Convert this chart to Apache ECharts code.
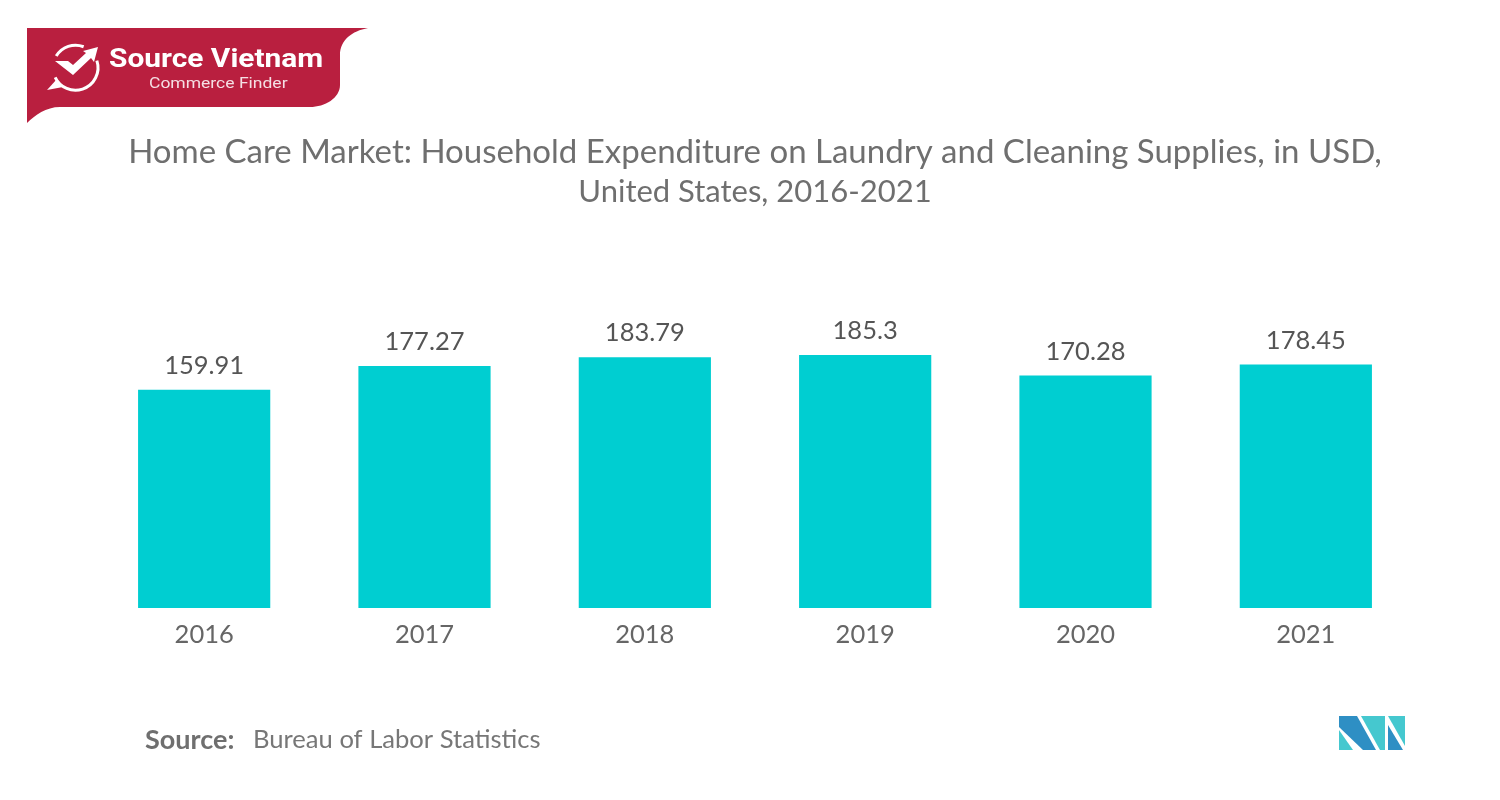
<!DOCTYPE html>
<html>
<head>
<meta charset="utf-8">
<style>html,body{margin:0;padding:0;background:#fff}#c{width:1500px;height:800px}</style>
<script src="https://cdn.jsdelivr.net/npm/echarts@6/dist/echarts.min.js"></script>
</head>
<body>
<div id="c"></div>
<script>
const categories = ['2016','2017','2018','2019','2020','2021'];
const values = [159.91,177.27,183.79,185.3,170.28,178.45];
const valueLabels = ['159.91','177.27','183.79','185.3','170.28','178.45'];
const titleLine1 = 'Home Care Market: Household Expenditure on Laundry and Cleaning Supplies, in USD,';
const titleLine2 = 'United States, 2016-2021';
const sourceLabel = 'Source:';
const sourceText = 'Bureau of Labor Statistics';
const FONT = 'Lato';

echarts.graphic.registerShape('banner', echarts.graphic.extendPath('M27 28 L368 28 C352 31 340 40 340 55 L340 85 C340 98 325 107 310 107 L60 107 C46 107 35 115 27 123 Z'));

const chart = echarts.init(document.getElementById('c'), null, {renderer:'canvas'});
chart.setOption({
  animation:false,
  backgroundColor:'#ffffff',
  title:[
    {text:titleLine1,left:750,top:127,textAlign:'center',
     textStyle:{fontFamily:FONT,fontSize:33,fontWeight:'normal',color:'#6f6f6f',lineHeight:40}},
    {text:titleLine2,left:750,top:167,textAlign:'center',
     textStyle:{fontFamily:FONT,fontSize:31,fontWeight:'normal',color:'#6f6f6f',lineHeight:40}}
  ],
  grid:{left:94,right:84,top:335,height:273,containLabel:false},
  xAxis:{
    type:'category',data:categories,
    axisLine:{show:false},axisTick:{show:false},
    axisLabel:{fontFamily:FONT,fontSize:25.5,color:'#666666',margin:14}
  },
  yAxis:{type:'value',min:0,max:200,show:false,splitLine:{show:false}},
  series:[{
    type:'bar',data:values,barCategoryGap:'40%',
    itemStyle:{color:'#00ced1'},
    label:{show:true,position:'top',distance:11,fontFamily:FONT,fontSize:25.5,color:'#555555',
      formatter:p=>valueLabels[p.dataIndex]}
  }],
  graphic:[
    {type:'banner',shape:{},style:{fill:'#b91f3f'}},
    {type:'arc',shape:{cx:75.5,cy:67.7,r:22.5,startAngle:-2.6,endAngle:-1.2,clockwise:true},style:{stroke:'#fff',lineWidth:3,fill:null}},
    {type:'arc',shape:{cx:75.5,cy:67.7,r:22.5,startAngle:-0.32,endAngle:2.7,clockwise:true},style:{stroke:'#fff',lineWidth:3,fill:null}},
    {type:'polygon',shape:{points:[[55,61],[68,61],[73,65],[86,53],[83,51],[98,47],[94,62],[91,58],[73,75]]},style:{fill:'#fff'}},
    {type:'polygon',shape:{points:[[47,90],[57,79],[63,87]]},style:{fill:'#fff'}},
    {type:'text',x:109,y:60.5,scaleX:1.15,style:{text:'Source Vietnam',fontFamily:'Roboto',fontSize:26,fontWeight:'bold',fill:'#fff',textVerticalAlign:'middle',textBaseline:'middle'}},
    {type:'text',x:149,y:84,scaleX:1.25,style:{text:'Commerce Finder',fontFamily:'Roboto',fontSize:14,fill:'#f5dfe4',textVerticalAlign:'middle',textBaseline:'middle'}},
    {type:'text',x:145,y:740,style:{text:sourceLabel,fontFamily:FONT,fontSize:27,fontWeight:'bold',fill:'#6f6f6f',textBaseline:'middle',textVerticalAlign:'middle'}},
    {type:'text',x:253,y:740,style:{text:sourceText,fontFamily:FONT,fontSize:25.6,fill:'#777777',textBaseline:'middle',textVerticalAlign:'middle'}},
    {type:'polygon',shape:{points:[[1339,716],[1357,716],[1376,750],[1363,750],[1339,727]]},style:{fill:'#2e8fc4'}},
    {type:'polygon',shape:{points:[[1339,730],[1353,750],[1339,750]]},style:{fill:'#45c8cf'}},
    {type:'polygon',shape:{points:[[1361,716],[1385,716],[1385,750],[1380,750]]},style:{fill:'#45c8cf'}},
    {type:'polygon',shape:{points:[[1388,716],[1405,716],[1405,746]]},style:{fill:'#45c8cf'}},
    {type:'polygon',shape:{points:[[1388,725],[1403,750],[1388,750]]},style:{fill:'#2e8fc4'}}
  ]
});
</script>
</body>
</html>
